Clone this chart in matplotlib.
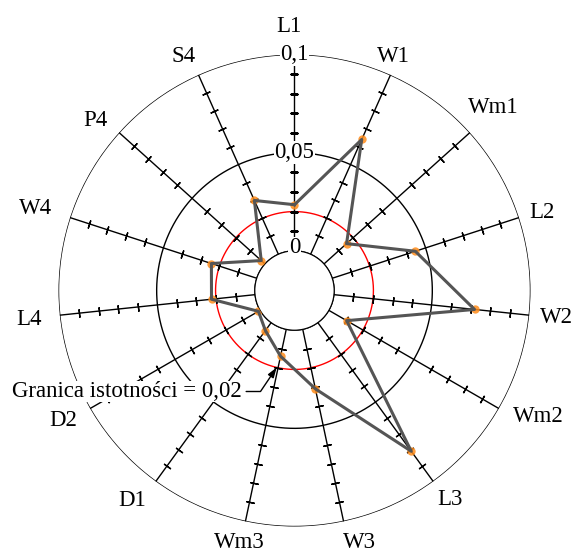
import numpy as np
import matplotlib.pyplot as plt

# axes of the radar, clockwise from the top
labels = ['L1', 'W1', 'Wm1', 'L2', 'W2', 'Wm2', 'L3', 'W3', 'Wm3',
          'D1', 'D2', 'L4', 'W4', 'P4', 'S4']
values = [0.0235, 0.064, 0.0155, 0.0445, 0.072, 0.0105, 0.081, 0.031,
          0.014, 0.005, 0.001, 0.0223, 0.0243, 0.0026, 0.030]
threshold = 0.02
ring_values = [0, 0.05, 0.1]
ring_labels = ['0', '0,05', '0,1']
minor_ticks = [0.01, 0.02, 0.03, 0.04, 0.06, 0.07, 0.08, 0.09]
r_max = 0.1

# where each axis name sits relative to the end of its spoke (pixels)
label_offsets = [(-6, 23), (3, 13), (23, 20), (23, 0), (27, -8), (39, -13),
                 (17, -24), (16, -27), (-6, -27), (-24, -25), (-27, -17),
                 (-31, -10), (-34, 4), (-24, 7), (-15, 13)]

plt.rcParams['font.family'] = ['Liberation Serif', 'DejaVu Serif']
fs = 16.5

fig = plt.figure(figsize=(5.74, 5.54), dpi=100)
ax = fig.add_axes([0.1019, 0.0496, 0.8223, 0.852], projection='polar')
ax.set_theta_zero_location('N')
ax.set_theta_direction(-1)
ax.set_rlim(0, r_max)
ax.set_rorigin(-0.0202)
ax.grid(False)
ax.set_xticks([])
ax.set_yticks([])
for s in ax.spines.values():
    s.set_visible(False)

n = len(labels)
step = 360 / n
thetas = np.deg2rad(np.arange(n) * step)

# circles
full = np.linspace(0, 2 * np.pi, 500)
for r in ring_values:
    ax.plot(full, np.full_like(full, r), color='black', lw=1, zorder=2)
ax.plot(full, np.full_like(full, threshold), color='red', lw=1, zorder=2)

# spokes with small perpendicular ticks
for i, th in enumerate(thetas):
    ax.plot([th, th], [0, r_max], color='black', lw=1, zorder=2)
    ax.plot(np.full(len(minor_ticks), th), minor_ticks, linestyle='none',
            marker=(2, 2, 90 - i * step), ms=6, mec='black', mew=1, zorder=2)
    ax.annotate(labels[i], xy=(th, r_max), xytext=label_offsets[i],
                textcoords='offset pixels', ha='center', va='baseline', fontsize=fs)

# value labels on the first spoke
for r, t in zip(ring_values, ring_labels):
    ax.text(0, r + (0.0015 if r == 0 else 0), t, ha='center', va='center', fontsize=fs,
            zorder=6, bbox=dict(facecolor='white', edgecolor='none', pad=0.5))

# data
ax.plot(thetas, values, 'o', color='#ff8c1a', ms=6, alpha=0.85, mec='none', zorder=3)
ax.plot(np.append(thetas, thetas[0]), values + [values[0]],
        color='#555555', lw=2.2, zorder=4)

ax.annotate('Granica istotności = 0,02', xy=(np.deg2rad(193), threshold),
            xytext=(12, 157), textcoords='figure pixels',
            ha='left', va='baseline', fontsize=fs, zorder=7,
            bbox=dict(facecolor='white', edgecolor='none', pad=0.2),
            arrowprops=dict(arrowstyle='-|>,head_length=0.6,head_width=0.2',
                            mutation_scale=10, color='black', lw=1,
                            shrinkA=3, shrinkB=0, relpos=(1, 0.5),
                            connectionstyle='angle,angleA=0,angleB=56,rad=0'))

fig.savefig('out.png', dpi=100)
